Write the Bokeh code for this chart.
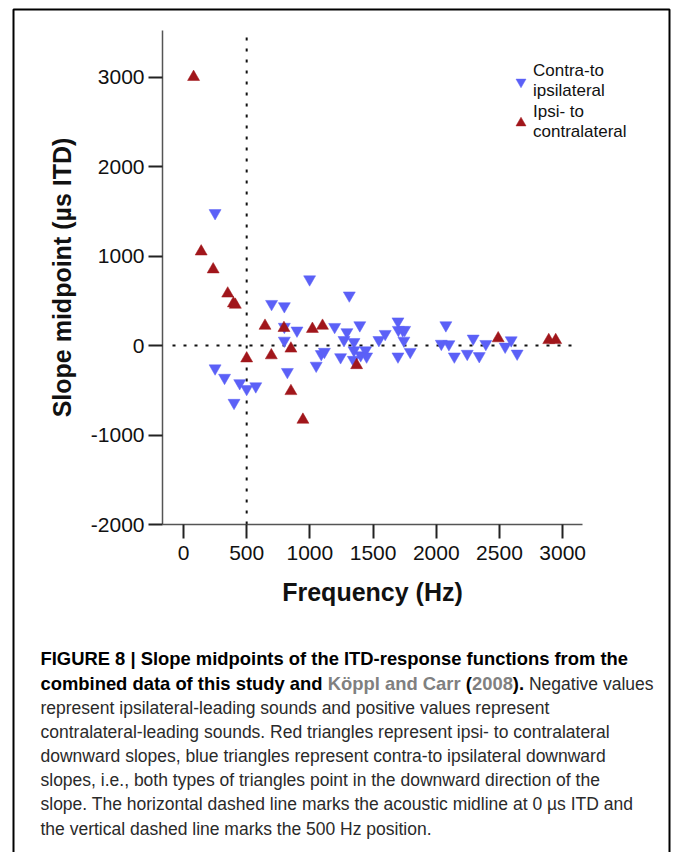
from bokeh.plotting import figure
from bokeh.models import Range1d, FixedTicker, Label, Legend, LegendItem, PolyAnnotation
from bokeh.embed import file_html
from bokeh.resources import INLINE

# ---------------- data ----------------
red_freq = [80, 140, 235, 350, 395, 410, 500, 645, 695, 795, 850, 850, 945, 1020, 1100, 1370, 2490, 2890, 2945]
red_mid = [3000, 1050, 850, 580, 470, 455, -145, 220, -110, 195, -35, -510, -830, 185, 220, -220, 80, 60, 60]

blue_freq = [250, 250, 325, 445, 500, 572, 400, 697, 798, 798, 798, 822, 898, 998, 1050, 1090, 1115,
             1196, 1243, 1293, 1270, 1312, 1395, 1349, 1349, 1344, 1402, 1441, 1449, 1546, 1596,
             1697, 1697, 1700, 1735, 1750, 1744, 1794, 2076, 2040, 2100, 2143, 2245, 2292, 2340,
             2392, 2545, 2593, 2640]
blue_mid = [1480, -255, -360, -420, -485, -455, -640, 465, 440, 210, 55, -295, 168, 740, -225, -95, -70,
            208, -130, 150, 62, 560, 227, 40, -53, -160, -108, -53, -122, 62, 130,
            270, -122, 175, 170, 175, 55, -71, 227, 20, 15, -122, -92, 78, -118,
            18, -12, 59, -90]

x_ticks = [0, 500, 1000, 1500, 2000, 2500, 3000]
y_ticks = [-2000, -1000, 0, 1000, 2000, 3000]
x_title = "Frequency (Hz)"
y_title = "Slope midpoint (\u00b5s ITD)"
legend_labels = ["Contra-to\nipsilateral", "Ipsi- to\ncontralateral"]
midline_itd = 0
boundary_freq = 500

caption_bold_1 = "FIGURE 8 | Slope midpoints of the ITD-response functions from the"
caption_2_parts = ["combined data of this study and ", "K\u00f6ppl and Carr", " (", "2008", ")."]
caption_2_rest = "Negative values"
caption_lines = [
    "represent ipsilateral-leading sounds and positive values represent",
    "contralateral-leading sounds. Red triangles represent ipsi- to contralateral",
    "downward slopes, blue triangles represent contra-to ipsilateral downward",
    "slopes, i.e., both types of triangles point in the downward direction of the",
    "slope. The horizontal dashed line marks the acoustic midline at 0 \u00b5s ITD and",
    "the vertical dashed line marks the 500 Hz position.",
]

# ---------------- layout ----------------
W, H = 673, 852
# pixel anchors of the axes box
AL, AR, AT, AB_ = 162, 582, 30, 524
X0, X1 = -166, 3157          # x values at AL / AR
Y0, Y1 = -2000, 3520         # y values at AB_ / AT

def dx(px):
    return X0 + (px - AL) * (X1 - X0) / (AR - AL)

def dy(py):
    return Y0 + (AB_ - py) * (Y1 - Y0) / (AB_ - AT)

BLUE = "#5b60f7"
RED = "#a1161b"
SANS = "Liberation Sans, Arial, sans-serif"

p = figure(width=W, height=H, x_range=Range1d(dx(0), dx(W)), y_range=Range1d(dy(H), dy(0)),
           output_backend="svg", toolbar_location=None,
           min_border_left=0, min_border_right=0, min_border_top=0, min_border_bottom=0,
           background_fill_color="white", border_fill_color="white", outline_line_color=None)
p.grid.visible = False

# dashed reference lines
p.segment(x0=[dx(172)], y0=[midline_itd], x1=[dx(578)], y1=[midline_itd],
          line_color="#111111", line_width=2, line_dash="3 8")
p.segment(x0=[boundary_freq], y0=[Y0], x1=[boundary_freq], y1=[dy(33)],
          line_color="#111111", line_width=2, line_dash="3 8")

rb = p.scatter(blue_freq, blue_mid, marker="inverted_triangle", size=12,
               fill_color=BLUE, line_color=BLUE, line_width=0.5)
rr = p.scatter(red_freq, red_mid, marker="triangle", size=12,
               fill_color=RED, line_color=RED, line_width=0.5)

# axes (drawn at fixed data locations inside the full-canvas frame)
for ax in (p.xaxis[0], p.yaxis[0]):
    ax.major_tick_out = 14
    ax.major_tick_in = 0
    ax.minor_tick_line_color = None
    ax.major_tick_line_color = "#222222"
    ax.major_tick_line_width = 2
    ax.axis_line_color = "#555555"
    ax.axis_line_width = 1.5
    ax.major_label_text_font = SANS
    ax.major_label_text_font_size = "21px"
    ax.major_label_text_color = "#111111"
    ax.axis_label_text_font = SANS
    ax.axis_label_text_font_style = "bold"
    ax.axis_label_text_font_size = "25px"
    ax.axis_label_text_color = "#111111"

p.xaxis.fixed_location = Y0
p.yaxis.fixed_location = X0
p.xaxis.bounds = (X0, X1)
p.yaxis.bounds = (Y0, Y1)
p.xaxis.ticker = FixedTicker(ticks=x_ticks)
p.yaxis.ticker = FixedTicker(ticks=y_ticks)
p.yaxis.major_label_overrides = {t: str(t) for t in y_ticks}
p.xaxis.major_label_standoff = 7
p.yaxis.major_label_standoff = 4
p.xaxis.axis_label = x_title
p.yaxis.axis_label = y_title
p.xaxis.axis_label_standoff = 15
p.yaxis.axis_label_standoff = 12

legend = Legend(items=[LegendItem(label=legend_labels[0], renderers=[rb]),
                       LegendItem(label=legend_labels[1], renderers=[rr])],
                location=(508, 710), glyph_width=25, glyph_height=25, label_standoff=0,
                spacing=1, padding=0, margin=0, background_fill_alpha=0, border_line_alpha=0,
                label_text_font=SANS, label_text_font_size="17px", label_text_color="#111111",
                label_text_line_height=1.0)
p.add_layout(legend)

# outer frame of the figure panel
p.add_layout(PolyAnnotation(xs=[dx(13), dx(13), dx(669), dx(669)],
                            ys=[dy(900), dy(9), dy(9), dy(900)],
                            fill_alpha=0, line_color="black", line_alpha=1.0, line_width=2))

# caption
ABW = {' ': 278, '(': 333, ')': 333, '.': 278, '0': 556, '2': 556, '8': 556, 'a': 556, 'b': 611,
       'c': 556, 'd': 611, 'e': 556, 'f': 333, 'h': 611, 'i': 278, 'l': 278, 'm': 889, 'n': 611,
       'o': 611, 'p': 611, 'r': 389, 's': 556, 't': 333, 'u': 611, 'y': 556, 'K': 722, 'C': 722,
       '\u00f6': 611}
BOLD_SIZE = 18.4
REG_SIZE = 17.5
CAP_X = 40
line_y = [658, 683, 707, 731, 755, 779, 803, 828]

def bold_width(s):
    return sum(ABW.get(c, 556) for c in s) / 1000.0 * BOLD_SIZE

def cap_label(px, py, text, bold, color):
    p.add_layout(Label(x=dx(px), y=dy(py), text=text, text_font=SANS,
                       text_font_size=f"{BOLD_SIZE if bold else REG_SIZE}px",
                       text_font_style="bold" if bold else "normal",
                       text_color=color, text_baseline="middle", text_align="left"))

cap_label(CAP_X, line_y[0], caption_bold_1, True, "#000000")
xx = CAP_X
for i, part in enumerate(caption_2_parts):
    color = "#808080" if i in (1, 3) else "#000000"
    lead = len(part) - len(part.lstrip(' '))
    cap_label(xx + bold_width(' ' * lead), line_y[1], part.strip(' '), True, color)
    xx += bold_width(part)
xx += 0.278 * REG_SIZE
cap_label(xx, line_y[1], caption_2_rest, False, "#2a2a2a")
for k, line in enumerate(caption_lines):
    cap_label(CAP_X, line_y[k + 2], line, False, "#2a2a2a")

open("out.html", "w").write(file_html(p, INLINE))
